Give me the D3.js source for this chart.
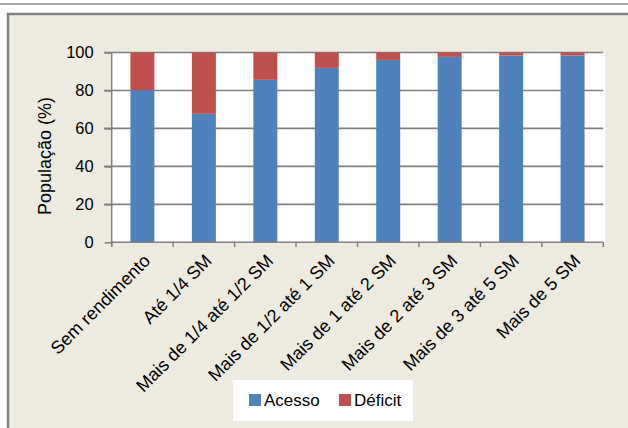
<!DOCTYPE html>
<html><head><meta charset="utf-8">
<script src="https://cdn.jsdelivr.net/npm/d3@7"></script>
<style>
html,body{margin:0;padding:0;background:#fff;}
svg{display:block;font-family:"Liberation Sans",Arial,sans-serif;}
</style></head>
<body>
<svg id="c" width="628" height="428"></svg>
<script>
const categories = ["Sem rendimento","Até 1/4 SM","Mais de 1/4 até 1/2 SM","Mais de 1/2 até 1 SM","Mais de 1 até 2 SM","Mais de 2 até 3 SM","Mais de 3 até 5 SM","Mais de 5 SM"];
const acesso = [80.2, 67.7, 85.6, 91.9, 96.1, 97.7, 98.4, 98.4];
const deficit = acesso.map(v => +(100 - v).toFixed(1));
const yTicks = [0, 20, 40, 60, 80, 100];
const seriesNames = ["Acesso", "Déficit"];
const colors = ["#4F81BD", "#C0504D"];

const svg = d3.select("#c");
// page frame
svg.append("rect").attr("x",0).attr("y",0).attr("width",628).attr("height",428).attr("fill","#fff");
svg.append("line").attr("x1",0).attr("x2",628).attr("y1",4).attr("y2",4).attr("stroke","#888").attr("stroke-width",1.5);
svg.append("rect").attr("x",8).attr("y",14).attr("width",640).attr("height",430)
  .attr("fill","#EDEAE0").attr("stroke","#808080").attr("stroke-width",2.5);

const x = d3.scaleBand().domain(categories).range([111.7, 603.3]).paddingInner(0.61).paddingOuter(0.305);
const y = d3.scaleLinear().domain([0,100]).range([242.3, 52.5]);

// plot area
svg.append("rect").attr("x",111.7).attr("y",52).attr("width",493.5).attr("height",190.3).attr("fill","#fff");

// grid
svg.append("g").selectAll("line").data(yTicks.filter(d=>d>0)).join("line")
  .attr("x1",104).attr("x2",603.3).attr("y1",d=>y(d)).attr("y2",d=>y(d))
  .attr("stroke","#808080").attr("stroke-width",1.6);

// stacked bars
const stackData = categories.map((c,i)=>({cat:c, Acesso:acesso[i], "Déficit":deficit[i]}));
const stack = d3.stack().keys(seriesNames)(stackData);
svg.append("g").selectAll("g").data(stack).join("g").attr("fill",(d,i)=>colors[i])
  .selectAll("rect").data(d=>d).join("rect")
  .attr("x",d=>x(d.data.cat)).attr("width",x.bandwidth())
  .attr("y",d=>y(d[1])).attr("height",d=>y(d[0])-y(d[1]));

// y axis
const yAxis = d3.axisLeft(y).tickValues(yTicks).tickSize(7).tickPadding(4);
const ya = svg.append("g").attr("transform","translate(111.7,0)").call(yAxis);
ya.select(".domain").attr("stroke","#808080").attr("stroke-width",1.5).attr("d","M0,52.5V246");
ya.selectAll(".tick line").attr("stroke","#808080").attr("stroke-width",1.5);
ya.selectAll(".tick text").attr("font-size",16.5).attr("fill","#000").attr("font-family","Liberation Sans, Arial, sans-serif").attr("x",-18);

// x axis
const boundaries = categories.map(c=>x(c)-x.step()*x.paddingInner()/2).concat([603.3]);
svg.append("line").attr("x1",111.7).attr("x2",603.3).attr("y1",242.3).attr("y2",242.3).attr("stroke","#808080").attr("stroke-width",1.5);
svg.append("g").selectAll("line").data(boundaries).join("line")
  .attr("x1",d=>d).attr("x2",d=>d).attr("y1",242.3).attr("y2",247).attr("stroke","#808080").attr("stroke-width",1.5);
svg.append("g").selectAll("text").data(categories).join("text")
  .attr("transform",d=>`translate(${x(d)+x.bandwidth()/2+9},${262}) rotate(-45)`)
  .attr("text-anchor","end").attr("font-size",18).attr("fill","#000").text(d=>d);

// y title
svg.append("text").attr("transform","translate(51,156) rotate(-90)").attr("text-anchor","middle")
  .attr("font-size",18).attr("fill","#000").text("População (%)");

// legend
const lg = svg.append("g");
lg.append("rect").attr("x",233).attr("y",380).attr("width",180).attr("height",41).attr("fill","#fff");
const items = [{n:seriesNames[0],c:colors[0],x:249},{n:seriesNames[1],c:colors[1],x:339}];
lg.selectAll("rect.k").data(items).join("rect").attr("class","k")
  .attr("x",d=>d.x).attr("y",394).attr("width",12).attr("height",12).attr("fill",d=>d.c);
lg.selectAll("text").data(items).join("text")
  .attr("x",d=>d.x+15).attr("y",406).attr("font-size",17).attr("fill","#000").text(d=>d.n);
</script>
</body></html>
